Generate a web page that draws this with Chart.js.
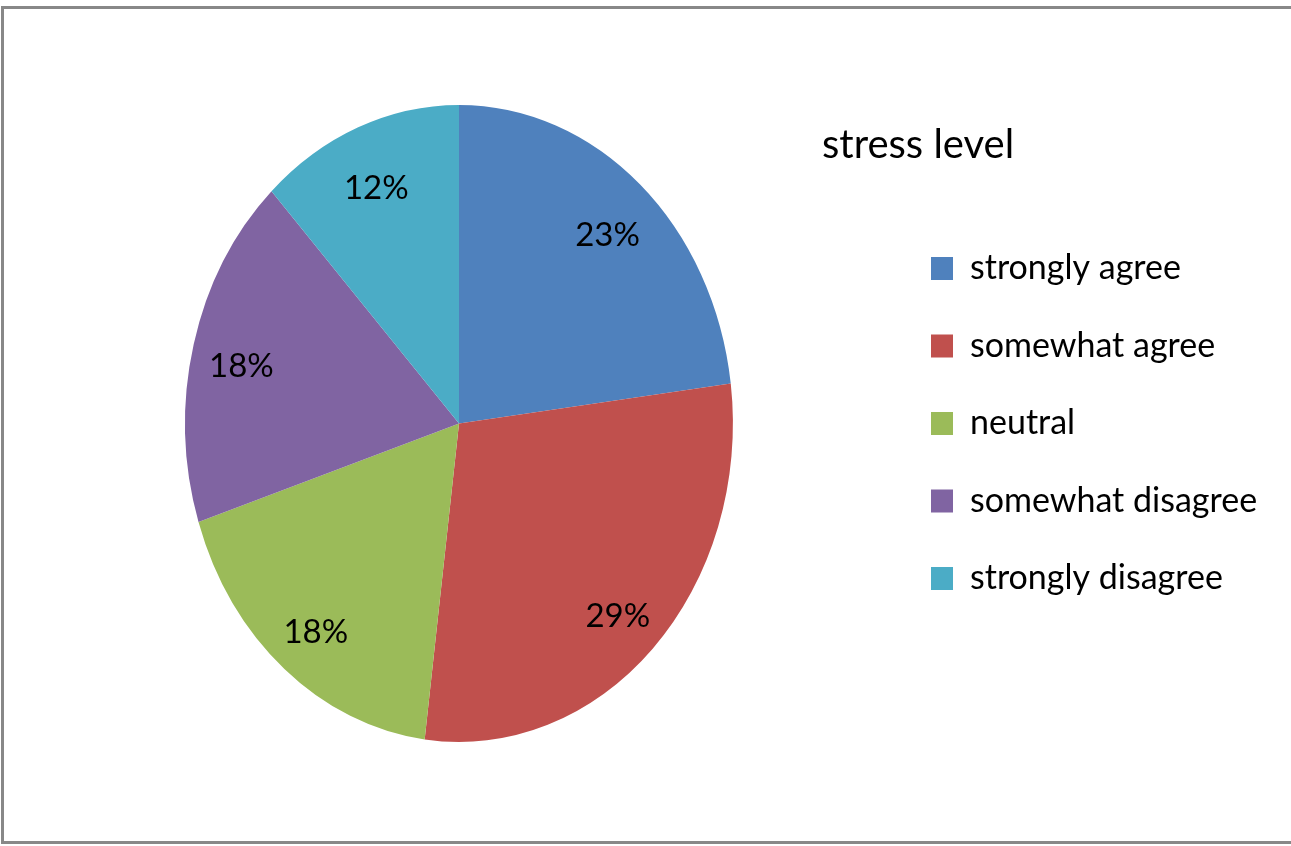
<!DOCTYPE html>
<html>
<head>
<meta charset="utf-8">
<script src="https://cdn.jsdelivr.net/npm/chart.js@4.4.1/dist/chart.umd.min.js"></script>
<style>
  body { margin: 0; background: #fff; overflow: hidden; }
  #myChart { position: absolute; left: 0; top: 0; }
  #frame {
    position: absolute; left: 1px; top: 6px; width: 1320px; height: 838px;
    border: 3px solid #888; box-sizing: border-box; pointer-events: none;
  }
</style>
</head>
<body>
<canvas id="myChart" width="1291" height="846"></canvas>
<div id="frame"></div>
<script>
const labels = ["strongly agree", "somewhat agree", "neutral", "somewhat disagree", "strongly disagree"];
const percents = [23, 29, 18, 18, 12];
const colors = ["#4F81BD", "#C0504D", "#9BBB59", "#8064A2", "#4BACC6"];
const legendTitle = "stress level";

// the original pie is drawn a bit narrower than it is tall
const squashX = 0.86;
const labelRadius = 0.82;
const legendWidth = 380;

const ellipsePie = {
  id: "ellipsePie",
  beforeInit(chart) {
    // fixed legend width so the pie centre does not move with the text width
    const fit = chart.legend.fit;
    chart.legend.fit = function () {
      fit.call(this);
      this.width = legendWidth;
    };
  },
  beforeDatasetsDraw(chart) {
    const arc = chart.getDatasetMeta(0).data[0];
    const ctx = chart.ctx;
    ctx.save();
    ctx.translate(arc.x, 0);
    ctx.scale(squashX, 1);
    ctx.translate(-arc.x, 0);
  },
  afterDatasetsDraw(chart) {
    const ctx = chart.ctx;
    ctx.restore();
    ctx.save();
    ctx.font = "33px Lato";
    ctx.fillStyle = "#000";
    ctx.textAlign = "center";
    ctx.textBaseline = "middle";
    chart.getDatasetMeta(0).data.forEach((arc, i) => {
      const p = arc.getProps(["x", "y", "startAngle", "endAngle", "outerRadius"], true);
      const mid = (p.startAngle + p.endAngle) / 2;
      const r = p.outerRadius * labelRadius;
      ctx.fillText(percents[i] + "%", p.x + Math.cos(mid) * r * squashX, p.y + Math.sin(mid) * r + 8);
    });
    ctx.restore();
  },
  afterDraw(chart) {
    const ctx = chart.ctx;
    ctx.save();
    ctx.font = "40px Lato";
    ctx.fillStyle = "#000";
    ctx.textAlign = "left";
    ctx.textBaseline = "alphabetic";
    ctx.fillText(legendTitle, 822, 158);
    ctx.restore();
  }
};

const ctx = document.getElementById("myChart").getContext("2d");
new Chart(ctx, {
  type: "pie",
  data: {
    labels: labels,
    datasets: [
      {
        data: percents,
        backgroundColor: colors,
        borderWidth: 0,
      },
    ],
  },
  plugins: [ellipsePie],
  options: {
    responsive: false,
    animation: false,
    layout: {
      padding: { left: 30.5, right: 23.5, top: 105, bottom: 104 },
    },
    plugins: {
      tooltip: { enabled: false },
      legend: {
        position: "right",
        align: "center",
        labels: {
          color: "#000",
          font: { family: "Lato", size: 34 },
          boxWidth: 22,
          boxHeight: 23,
          padding: 43.5,
        },
      },
    },
  },
});
</script>
</body>
</html>
